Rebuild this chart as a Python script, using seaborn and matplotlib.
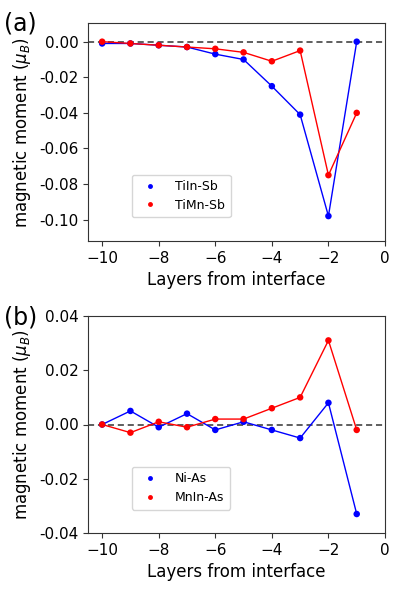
import numpy as np
import pandas as pd
import matplotlib
matplotlib.use('Agg')
import matplotlib.pyplot as plt
import seaborn as sns

layers = [-10, -9, -8, -7, -6, -5, -4, -3, -2, -1]

# panel (a)
tiin_sb = [-0.001, -0.001, -0.002, -0.003, -0.007, -0.010, -0.025, -0.041, -0.098, 0.000]
timn_sb = [0.000, -0.001, -0.002, -0.003, -0.004, -0.006, -0.011, -0.005, -0.075, -0.040]

# panel (b)
ni_as = [0.000, 0.005, -0.001, 0.004, -0.002, 0.001, -0.002, -0.005, 0.008, -0.033]
mnin_as = [0.000, -0.003, 0.001, -0.001, 0.002, 0.002, 0.006, 0.010, 0.031, -0.002]

sns.set_style('ticks')
plt.rcParams['font.family'] = ['DejaVu Sans']
plt.rcParams['mathtext.fontset'] = 'dejavusans'
plt.rcParams['text.color'] = 'black'
plt.rcParams['axes.labelcolor'] = 'black'
plt.rcParams['xtick.labelcolor'] = 'black'
plt.rcParams['ytick.labelcolor'] = 'black'

fig = plt.figure(figsize=(3.99, 5.93), dpi=100)
ax_a = fig.add_axes([88 / 399, 1 - 241 / 593, 297 / 399, 218 / 593])
ax_b = fig.add_axes([88 / 399, 1 - 533 / 593, 297 / 399, 217 / 593])


def draw(ax, s1, s2, lab1, lab2):
    df = pd.DataFrame({'layer': layers * 2,
                       'moment': s1 + s2,
                       'system': [lab1] * len(layers) + [lab2] * len(layers)})
    pal = {lab1: 'blue', lab2: 'red'}
    ax.axhline(0, color='#333333', ls=(0, (4, 2.5)), lw=1.1, zorder=1)
    sns.lineplot(data=df, x='layer', y='moment', hue='system', palette=pal,
                 lw=1, ax=ax, legend=False, zorder=2)
    sns.scatterplot(data=df, x='layer', y='moment', hue='system', palette=pal,
                    s=22, edgecolor='none', ax=ax, zorder=3)
    ax.set_xlim(-10.5, 0)
    ax.set_xticks([-10, -8, -6, -4, -2, 0])
    ax.set_xlabel('Layers from interface', fontsize=12)
    ax.set_ylabel(r'magnetic moment ($\mu_B$)', fontsize=12)
    ax.tick_params(labelsize=11, color='#333333')
    for sp in ax.spines.values():
        sp.set_color('#333333')
    leg = ax.legend(loc='lower left', bbox_to_anchor=(0.148, 0.108), fontsize=9,
                    markerscale=0.75, handletextpad=1.0, borderpad=0.45,
                    labelspacing=0.45, borderaxespad=0, title=None)
    leg.get_frame().set_edgecolor('#cccccc')


draw(ax_a, tiin_sb, timn_sb, 'TiIn-Sb', 'TiMn-Sb')
ax_a.set_ylim(-0.112, 0.0105)
ax_a.set_yticks([0.0, -0.02, -0.04, -0.06, -0.08, -0.10])
ax_a.yaxis.set_major_formatter(matplotlib.ticker.FormatStrFormatter('%.2f'))

draw(ax_b, ni_as, mnin_as, 'Ni-As', 'MnIn-As')
ax_b.set_ylim(-0.04, 0.04)
ax_b.set_yticks([-0.04, -0.02, 0.0, 0.02, 0.04])
ax_b.yaxis.set_major_formatter(matplotlib.ticker.FormatStrFormatter('%.2f'))

fig.text(0.01, 1 - 30 / 593, '(a)', fontsize=17)
fig.text(0.01, 1 - 325 / 593, '(b)', fontsize=17)

fig.savefig('out.png', dpi=100)
